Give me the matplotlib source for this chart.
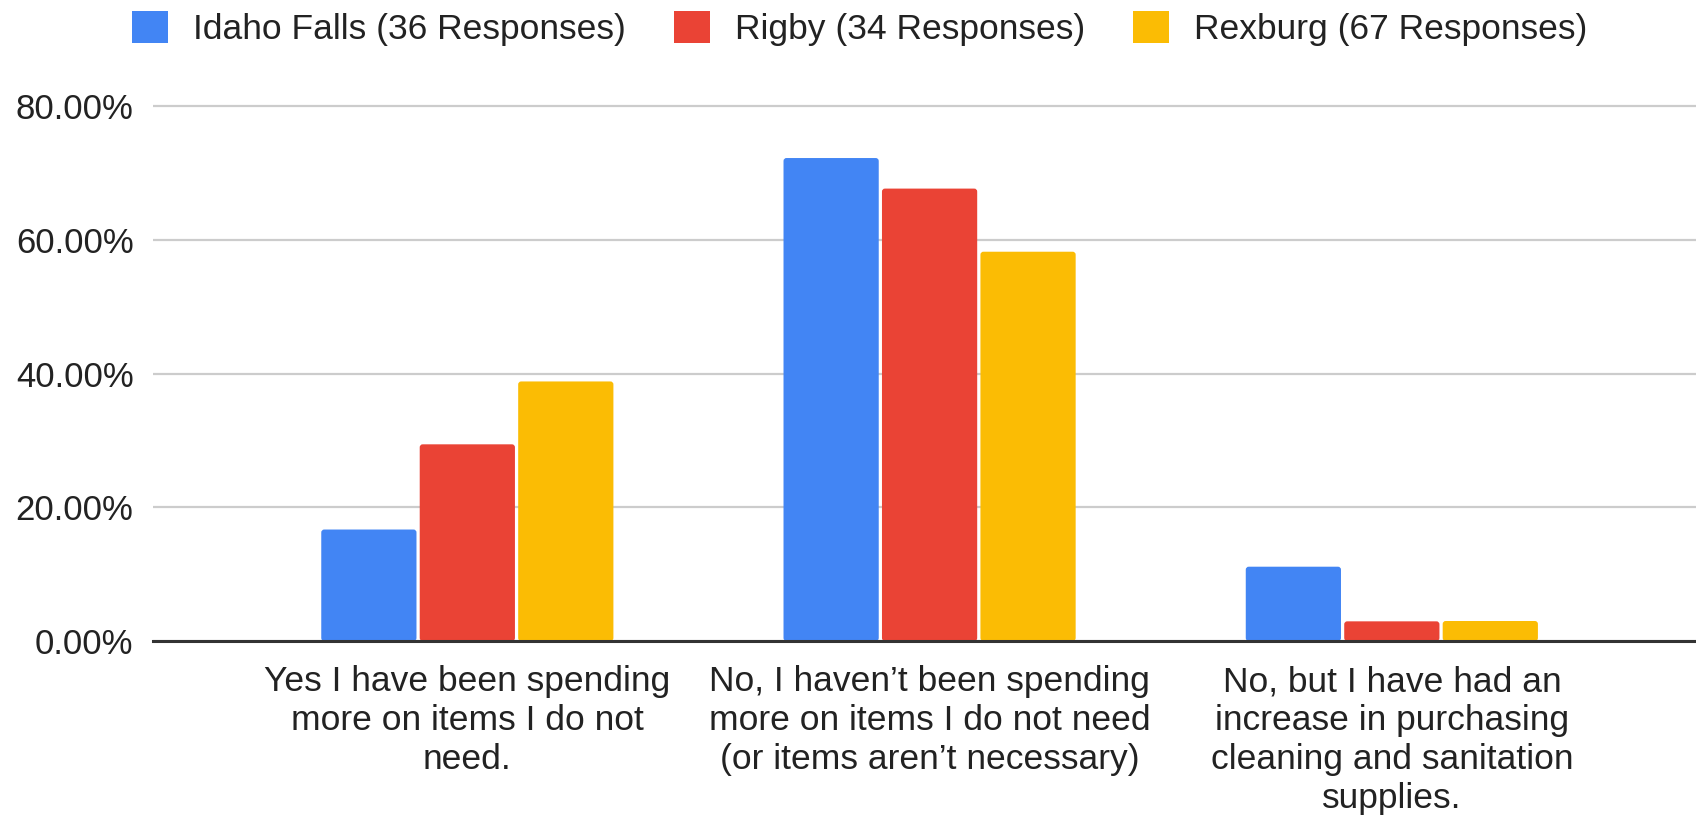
import matplotlib
matplotlib.use("Agg")
import matplotlib.pyplot as plt
from matplotlib.patches import Patch, FancyBboxPatch
import numpy as np

plt.rcParams['font.family'] = ['Liberation Sans', 'DejaVu Sans']

categories = [
    "Yes I have been spending\nmore on items I do not\nneed.",
    "No, I haven\u2019t been spending\nmore on items I do not need\n(or items aren\u2019t necessary)",
    "No, but I have had an\nincrease in purchasing\ncleaning and sanitation\nsupplies.",
]
series_names = [
    "Idaho Falls (36 Responses)",
    "Rigby (34 Responses)",
    "Rexburg (67 Responses)",
]
idaho_falls = [16.67, 72.22, 11.11]
rigby = [29.41, 67.65, 2.94]
rexburg = [38.81, 58.21, 2.99]
y_ticks = [0, 20, 40, 60, 80]

colors = ["#4285F4", "#EA4335", "#FBBC04"]
text_color = "#222222"

W, H, DPI = 1696, 824, 100
fig = plt.figure(figsize=(W / DPI, H / DPI), dpi=DPI)

y_top = 82
px_per_unit = (641 - 106) / 80.0
ax_left = 153 / W
ax_bottom = 1 - 641 / H
ax_height = (y_top * px_per_unit) / H
ax = fig.add_axes([ax_left, ax_bottom, 1 - ax_left, ax_height])

x_min, x_max = -0.680, 2.658
ax.set_xlim(x_min, x_max)
ax.set_ylim(0, y_top)

x = np.arange(len(categories))
slot = 0.213
bar_w = 0.206
all_series = [idaho_falls, rigby, rexburg]

# pixel-to-data ratios so the top corners round evenly
px_x = (x_max - x_min) / (W * (1 - ax_left))
px_y = 1.0 / px_per_unit
radius_px = 3.0
for i, (vals, c) in enumerate(zip(all_series, colors)):
    bars = ax.bar(x + (i - 1) * slot, vals, width=bar_w, color=c, zorder=3,
                  linewidth=0)
    for b in bars:
        bx, by = b.get_x(), b.get_y()
        bw, bh = b.get_width(), b.get_height()
        b.remove()
        rounded = FancyBboxPatch(
            (bx, by), bw, bh,
            boxstyle=f"round,pad=0,rounding_size={radius_px * px_x}",
            mutation_aspect=px_y / px_x,
            facecolor=c, edgecolor='none', zorder=3)
        ax.add_patch(rounded)

ax.set_yticks(y_ticks)
ax.set_yticklabels([f"{v:.2f}%" for v in y_ticks], fontsize=25, color=text_color)
ax.set_xticks(x)
ax.set_xticklabels(categories, fontsize=25.5, color=text_color, linespacing=1.23)
ax.tick_params(axis='y', length=0, pad=14)
ax.tick_params(axis='x', length=0, pad=17.5)

for s in ['top', 'right', 'left']:
    ax.spines[s].set_visible(False)
ax.spines['bottom'].set_color('#333333')
ax.spines['bottom'].set_linewidth(2.2)
ax.spines['bottom'].set_zorder(4)
ax.grid(axis='y', color='#cccccc', linewidth=1.6, zorder=0)
ax.set_axisbelow(True)

handles = [Patch(facecolor=c, edgecolor='none', label=n)
           for c, n in zip(colors, series_names)]
fig.legend(handles=handles, loc='center left',
           bbox_to_anchor=(131.7 / W, 1 - 28.5 / H), ncol=3, frameon=False,
           fontsize=25.5, handlelength=1.02, handleheight=1.02,
           handletextpad=0.7, columnspacing=1.36, borderpad=0,
           borderaxespad=0, labelcolor=text_color)

fig.savefig("out.png", dpi=DPI, facecolor="white")
